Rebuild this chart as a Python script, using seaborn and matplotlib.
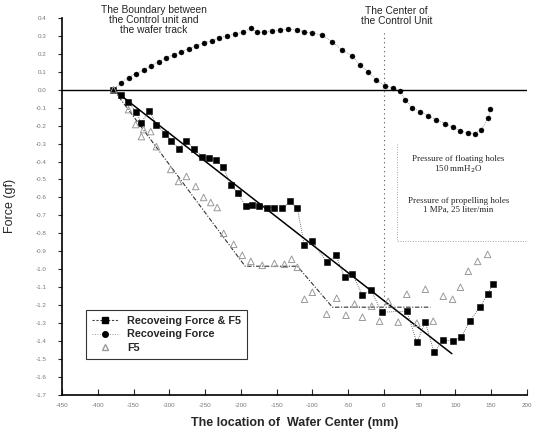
import matplotlib
matplotlib.use("Agg")
import matplotlib.pyplot as plt
from matplotlib.lines import Line2D
import numpy as np
import pandas as pd
import seaborn as sns

# Recoveing Force & F5 (filled squares)
rf5_x = [-378, -368, -358, -347, -339, -328, -318, -306, -297, -287, -276, -266, -254, -245,
         -235, -225, -214, -204, -193, -184, -174, -163, -153, -142, -131, -121, -111, -100,
         -80, -67, -55, -44, -30, -18, -3, 32, 46, 58, 70, 83, 97, 108, 120, 134, 145, 152]
rf5_y = [0.0, -0.028, -0.067, -0.122, -0.183, -0.117, -0.194, -0.244, -0.283, -0.328, -0.283,
         -0.328, -0.372, -0.383, -0.389, -0.428, -0.528, -0.578, -0.65, -0.644, -0.65, -0.656,
         -0.656, -0.661, -0.622, -0.661, -0.867, -0.844, -0.961, -0.922, -1.044, -1.028,
         -1.144, -1.117, -1.239, -1.233, -1.406, -1.294, -1.461, -1.394, -1.4, -1.378,
         -1.289, -1.211, -1.139, -1.083]

# Recoveing Force (filled dots)
rf_x = [-378, -368, -357, -347, -336, -326, -315, -305, -294, -283, -273, -262, -252, -240,
        -231, -219, -208, -197, -186, -177, -167, -156, -145, -134, -122, -111, -100, -87,
        -72, -59, -45, -34, -22, -11, 1, 13, 22, 30, 39, 51, 62, 73, 86, 97, 107, 117, 127,
        136, 146, 149]
rf_y = [0.0, 0.04, 0.067, 0.09, 0.11, 0.133, 0.156, 0.178, 0.194, 0.21, 0.228, 0.244, 0.26,
        0.272, 0.29, 0.3, 0.31, 0.32, 0.344, 0.32, 0.322, 0.328, 0.333, 0.339, 0.333, 0.322,
        0.315, 0.306, 0.267, 0.222, 0.19, 0.14, 0.1, 0.056, 0.022, 0.01, -0.01, -0.056,
        -0.1, -0.122, -0.144, -0.167, -0.19, -0.21, -0.228, -0.24, -0.244, -0.222, -0.156,
        -0.11]

# F5 (hollow triangles)
f5_x = [-378, -357, -347, -339, -336, -326, -318, -298, -287, -276, -263, -252, -242, -233,
        -224, -210, -198, -186, -170, -153, -139, -129, -121, -111, -100, -80, -66, -53,
        -41, -30, -17, -6, 6, 20, 32, 46, 58, 69, 83, 96, 107, 118, 131, 145]
f5_y = [0.0, -0.111, -0.194, -0.261, -0.222, -0.233, -0.317, -0.444, -0.511, -0.483, -0.539,
        -0.6, -0.628, -0.656, -0.8, -0.861, -0.922, -0.956, -0.978, -0.967, -0.972, -0.944,
        -0.989, -1.167, -1.128, -1.25, -1.161, -1.256, -1.194, -1.267, -1.206, -1.289,
        -1.178, -1.294, -1.139, -1.3, -1.111, -1.289, -1.15, -1.167, -1.1, -1.011, -0.956,
        -0.917]

# straight fit through the squares, and the F5 trend line
fit_x = [-378, 95]
fit_y = [0.0, -1.47]
trend_x = [-378, -194, -121, -72, 65]
trend_y = [0.0, -0.983, -0.983, -1.211, -1.211]

x_ticks = list(range(-450, 201, 50))
y_ticks = [round(v, 1) for v in np.arange(-1.7, 0.41, 0.1)]

sns.set_style("ticks")
plt.rcParams['font.family'] = ['Liberation Sans', 'DejaVu Sans']

fig = plt.figure(figsize=(5.33, 4.38), dpi=100)
ax = fig.add_axes([0.1163, 0.0982, 0.8724, 0.861])

ax.axhline(0, color='black', lw=1.0, zorder=1)
ax.plot([0, 0], [-1.25, 0.33], color='#555555', lw=0.8, ls=(0, (1, 3)), zorder=1)

# dotted left / bottom edge round the pressure notes
ax.plot([18, 18, 200], [-0.3, -0.84, -0.84], color='#888888', lw=0.6,
        ls=(0, (1, 2)), zorder=1, clip_on=False)

sns.lineplot(x=fit_x, y=fit_y, color='black', lw=1.1, ax=ax, sort=False, zorder=2)
sns.lineplot(x=trend_x, y=trend_y, color='#333333', lw=0.8, ls=(0, (4, 1.5, 1, 1.5)),
             ax=ax, sort=False, zorder=2)

df_sq = pd.DataFrame({'x': rf5_x, 'y': rf5_y})
df_dot = pd.DataFrame({'x': rf_x, 'y': rf_y})
df_tri = pd.DataFrame({'x': f5_x, 'y': f5_y})

sns.lineplot(data=df_sq, x='x', y='y', color='#444444', lw=0.6, ls=(0, (1, 1.5)),
             ax=ax, sort=False, zorder=3)
sns.scatterplot(data=df_sq, x='x', y='y', marker='s', s=24, color='black',
                edgecolor='black', ax=ax, zorder=4)

sns.lineplot(data=df_dot, x='x', y='y', color='#555555', lw=0.5, ls=(0, (1, 2)),
             ax=ax, sort=False, zorder=3)
sns.scatterplot(data=df_dot, x='x', y='y', marker='o', s=13, color='black',
                edgecolor='black', ax=ax, zorder=4)

sns.scatterplot(data=df_tri, x='x', y='y', marker='^', s=22, facecolor='none',
                edgecolor='#9a9a9a', linewidth=0.7, ax=ax, zorder=4)

ax.set_xlim(-450, 200)
ax.set_ylim(-1.7, 0.4)
ax.set_xticks(x_ticks)
ax.set_xticklabels([str(v) for v in x_ticks], fontsize=4.5, color='#777777')
ax.set_yticks(y_ticks)
ax.set_yticklabels(['%.1f' % v for v in y_ticks], fontsize=4.5, color='#777777')
ax.tick_params(axis='x', direction='in', length=4, width=0.8, pad=6)
ax.tick_params(axis='y', direction='out', length=3, width=0.8, pad=8)
sns.despine(ax=ax)
for sp in ['left', 'bottom']:
    ax.spines[sp].set_linewidth(1.2)
    ax.spines[sp].set_color('black')

ax.set_xlabel('The location of  Wafer Center (mm)', fontsize=9, fontweight='bold', labelpad=6)
ax.set_ylabel('Force (gf)', fontsize=9, labelpad=14)

ax.text(-322, 0.39, 'The Boundary between\nthe Control unit and\nthe wafer track',
        ha='center', va='center', fontsize=7.4, linespacing=1.0)
ax.text(18, 0.41, 'The Center of\nthe Control Unit', ha='center', va='center',
        fontsize=7.4, linespacing=1.0)

ax.text(104, -0.42, 'Pressure of floating holes\n150 mmH$_2$O', ha='center', va='center',
        fontsize=6.5, family='Liberation Serif', linespacing=1.15)
ax.text(104, -0.645, 'Pressure of propelling holes\n1 MPa, 25 liter/min', ha='center',
        va='center', fontsize=6.5, family='Liberation Serif', linespacing=1.15)

handles = [
    Line2D([], [], color='#444444', lw=0.8, ls=(0, (2, 1.5)), marker='s', ms=5,
           markerfacecolor='black', markeredgecolor='black'),
    Line2D([], [], color='#777777', lw=0.6, ls=(0, (1, 2)), marker='o', ms=4,
           markerfacecolor='black', markeredgecolor='black'),
    Line2D([], [], color='none', marker='^', ms=4, markerfacecolor='none',
           markeredgecolor='#9a9a9a'),
]
leg = ax.legend(handles, ['Recoveing Force & F5', 'Recoveing Force', 'F5'],
                loc='lower left', bbox_to_anchor=(0.052, 0.095), fontsize=7.8,
                frameon=True, fancybox=False, edgecolor='black', handlelength=2.4,
                borderpad=0.55, labelspacing=0.35, borderaxespad=0.0)
leg.get_frame().set_linewidth(0.8)
for t in leg.get_texts():
    t.set_fontweight('bold')

fig.savefig('out.png', dpi=100)
